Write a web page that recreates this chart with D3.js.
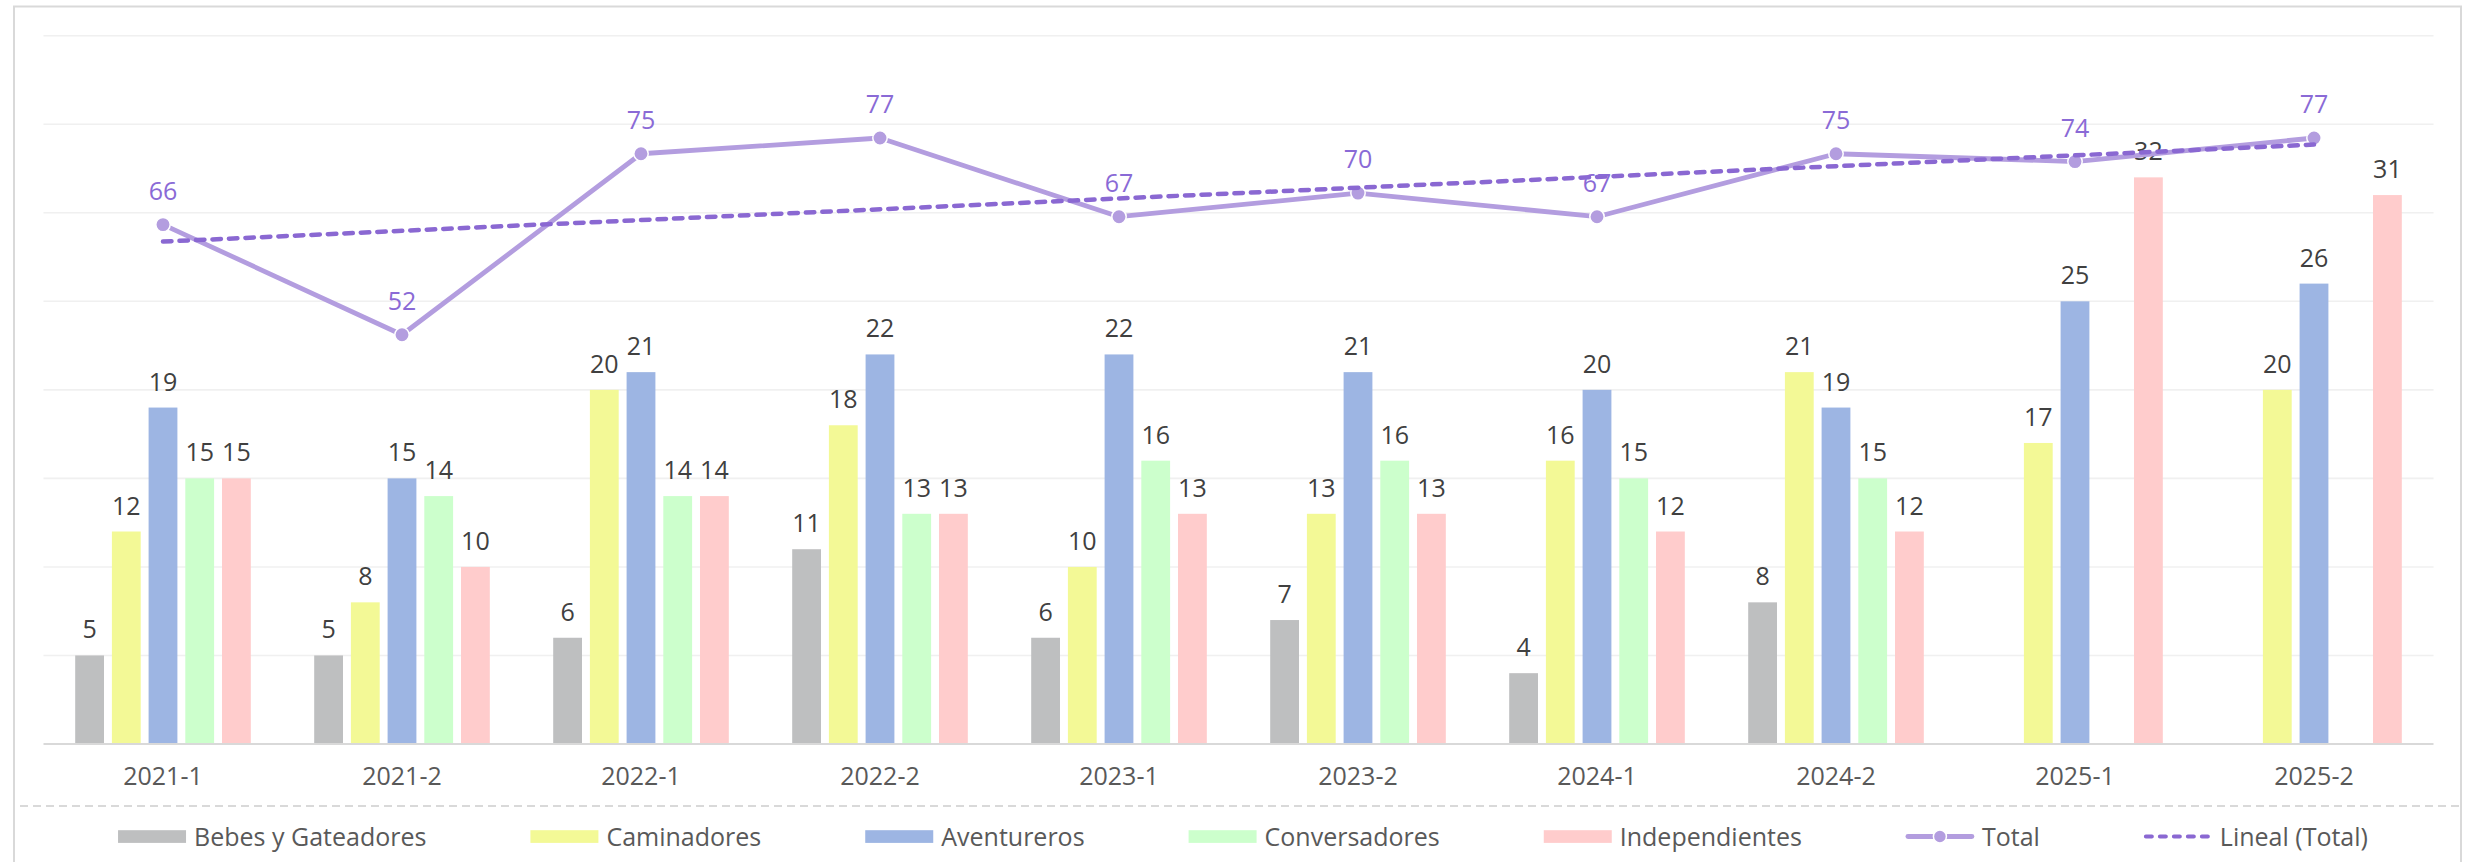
<!DOCTYPE html>
<html>
<head>
<meta charset="utf-8">
<script src="https://cdn.jsdelivr.net/npm/d3@7/dist/d3.min.js"></script>
<style>
  html, body { margin: 0; padding: 0; background: #ffffff; }
  svg { display: block; }
  text { font-family: "Open Sans", "DejaVu Sans", sans-serif; }
</style>
</head>
<body>
<svg id="chart" width="2466" height="862"></svg>
<script>
// Semesters on the x axis
const categories = ["2021-1", "2021-2", "2022-1", "2022-2", "2023-1", "2023-2", "2024-1", "2024-2", "2025-1", "2025-2"];

// Students per group (null = no group that semester)
const bebes          = [5, 5, 6, 11, 6, 7, 4, 8, null, null];
const caminadores    = [12, 8, 20, 18, 10, 13, 16, 21, 17, 20];
const aventureros    = [19, 15, 21, 22, 22, 21, 20, 19, 25, 26];
const conversadores  = [15, 14, 14, 13, 16, 16, 15, 15, null, null];
const independientes = [15, 10, 14, 13, 13, 13, 12, 12, 32, 31];

// Total per semester (secondary axis)
const totals = [66, 52, 75, 77, 67, 70, 67, 75, 74, 77];

// Axis definitions
const primaryTicks = [0, 5, 10, 15, 20, 25, 30, 35, 40];
const secondaryDomain = [0, 90];

const seriesNames  = ["Bebes y Gateadores", "Caminadores", "Aventureros", "Conversadores", "Independientes"];
const seriesValues = [bebes, caminadores, aventureros, conversadores, independientes];
const seriesColors = ["#bebfc0", "#f3f996", "#9db5e3", "#ccffcc", "#ffcccc"];

const lineColor  = "#b39ddf";
const trendColor = "#8a68d2";
const totalLabelColor = "#8a6ad6";
const labelColor = "#404040";
const axisTextColor = "#595959";
const FONT = 25;

const svg = d3.select("#chart");

// chart frame
svg.append("rect")
  .attr("x", 14).attr("y", 6.5)
  .attr("width", 2447).attr("height", 900)
  .attr("fill", "#ffffff")
  .attr("stroke", "#d9d9d9").attr("stroke-width", 2);

const plot = { left: 43.5, right: 2433.5, top: 35.7, bottom: 744 };

const x0 = d3.scaleBand().domain(categories).range([plot.left, plot.right]).padding(0);
const step = 36.7;
const x1 = d3.scaleBand().domain(seriesNames).range([0, x0.bandwidth()])
  .paddingInner(0.215)
  .paddingOuter((x0.bandwidth() / step - seriesNames.length + 0.215) / 2);

const y = d3.scaleLinear().domain([0, 40]).range([plot.bottom, plot.top]);
const y2 = d3.scaleLinear().domain(secondaryDomain).range([plot.bottom, plot.top]);

// gridlines
svg.append("g")
  .selectAll("line")
  .data(primaryTicks.filter(t => t > 0))
  .join("line")
  .attr("x1", plot.left).attr("x2", plot.right)
  .attr("y1", d => y(d)).attr("y2", d => y(d))
  .attr("stroke", "#f0f0f0").attr("stroke-width", 1.6);

// bars
const barData = [];
seriesNames.forEach((name, si) => {
  seriesValues[si].forEach((v, ci) => {
    if (v !== null) barData.push({ name, si, cat: categories[ci], value: v });
  });
});

const bars = svg.append("g");
bars.selectAll("rect")
  .data(barData)
  .join("rect")
  .attr("x", d => x0(d.cat) + x1(d.name))
  .attr("y", d => y(d.value))
  .attr("width", x1.bandwidth())
  .attr("height", d => y(0) - y(d.value))
  .attr("fill", d => seriesColors[d.si]);

// x axis
const xAxis = svg.append("g")
  .attr("transform", `translate(0,${plot.bottom})`)
  .call(d3.axisBottom(x0).tickSize(0).tickPadding(0));
xAxis.select(".domain").attr("stroke", "#d9d9d9").attr("stroke-width", 2.2)
  .attr("d", `M${plot.left},0H${plot.right}`);
xAxis.selectAll("text")
  .attr("y", 41)
  .attr("dy", null)
  .attr("fill", axisTextColor)
  .style("font-size", FONT + "px")
  .style("font-family", null);

// bar value labels
bars.selectAll("text")
  .data(barData)
  .join("text")
  .attr("x", d => x0(d.cat) + x1(d.name) + x1.bandwidth() / 2)
  .attr("y", d => y(d.value) - 17)
  .attr("text-anchor", "middle")
  .attr("fill", labelColor)
  .style("font-size", FONT + "px")
  .text(d => d.value);

// linear trend of totals (least squares over the semester index)
const n = totals.length;
const xs = d3.range(1, n + 1);
const mx = d3.mean(xs), my = d3.mean(totals);
const slope = d3.sum(xs, (xv, i) => (xv - mx) * (totals[i] - my)) / d3.sum(xs, xv => (xv - mx) ** 2);
const intercept = my - slope * mx;
const trend = [xs[0], xs[n - 1]].map(xv => ({ cat: categories[xv - 1], value: intercept + slope * xv }));

const cx = c => x0(c) + x0.bandwidth() / 2;

// total line
const totalData = totals.map((v, i) => ({ cat: categories[i], value: v }));
svg.append("path")
  .datum(totalData)
  .attr("fill", "none")
  .attr("stroke", lineColor)
  .attr("stroke-width", 4.8)
  .attr("stroke-linejoin", "round")
  .attr("d", d3.line().x(d => cx(d.cat)).y(d => y2(d.value)));

svg.append("g")
  .selectAll("circle")
  .data(totalData)
  .join("circle")
  .attr("cx", d => cx(d.cat))
  .attr("cy", d => y2(d.value))
  .attr("r", 7.2)
  .attr("fill", lineColor)
  .attr("stroke", "#ffffff").attr("stroke-width", 1.5);

// trend line
svg.append("path")
  .datum(trend)
  .attr("fill", "none")
  .attr("stroke", trendColor)
  .attr("stroke-width", 4.5)
  .attr("stroke-dasharray", "8.5,8")
  .attr("stroke-linecap", "round")
  .attr("d", d3.line().x(d => cx(d.cat)).y(d => y2(d.value)));

// total labels
svg.append("g")
  .selectAll("text")
  .data(totalData)
  .join("text")
  .attr("x", d => cx(d.cat))
  .attr("y", d => y2(d.value) - 25)
  .attr("text-anchor", "middle")
  .attr("fill", totalLabelColor)
  .style("font-size", FONT + "px")
  .text(d => d.value);

// separator between plot and legend
svg.append("line")
  .attr("x1", 20).attr("x2", 2460)
  .attr("y1", 806).attr("y2", 806)
  .attr("stroke", "#d9d9d9").attr("stroke-width", 2)
  .attr("stroke-dasharray", "8,5");

// legend
const legendItems = seriesNames.map((name, i) => ({ name, type: "bar", color: seriesColors[i] }))
  .concat([{ name: "Total", type: "line" }, { name: "Lineal (Total)", type: "trend" }]);

const legendY = 836.5;
const swatchW = 68, swatchGap = 8, itemGap = 104;
const legend = svg.append("g");
const items = legend.selectAll("g")
  .data(legendItems)
  .join("g");

items.append("text")
  .attr("x", swatchW + swatchGap)
  .attr("y", legendY + 9)
  .attr("fill", axisTextColor)
  .style("font-size", FONT + "px")
  .text(d => d.name);

items.each(function (d) {
  const g = d3.select(this);
  if (d.type === "bar") {
    g.append("rect").attr("x", 0).attr("y", legendY - 6.3)
      .attr("width", swatchW).attr("height", 12.7).attr("fill", d.color);
  } else if (d.type === "line") {
    g.append("line").attr("x1", 2).attr("x2", swatchW - 2)
      .attr("y1", legendY).attr("y2", legendY)
      .attr("stroke", lineColor).attr("stroke-width", 4.8).attr("stroke-linecap", "round");
    g.append("circle").attr("cx", swatchW / 2).attr("cy", legendY).attr("r", 6.5)
      .attr("fill", lineColor).attr("stroke", "#ffffff").attr("stroke-width", 1.5);
  } else {
    g.append("line").attr("x1", 2).attr("x2", swatchW - 2)
      .attr("y1", legendY).attr("y2", legendY)
      .attr("stroke", trendColor).attr("stroke-width", 4)
      .attr("stroke-dasharray", "6,8").attr("stroke-linecap", "round");
  }
});

const widths = [];
items.each(function () {
  widths.push(swatchW + swatchGap + d3.select(this).select("text").node().getComputedTextLength());
});
const totalW = d3.sum(widths) + itemGap * (widths.length - 1);
let lx = 1243 - totalW / 2;
items.each(function (d, i) {
  d3.select(this).attr("transform", `translate(${lx},0)`);
  lx += widths[i] + itemGap;
});
</script>
</body>
</html>
